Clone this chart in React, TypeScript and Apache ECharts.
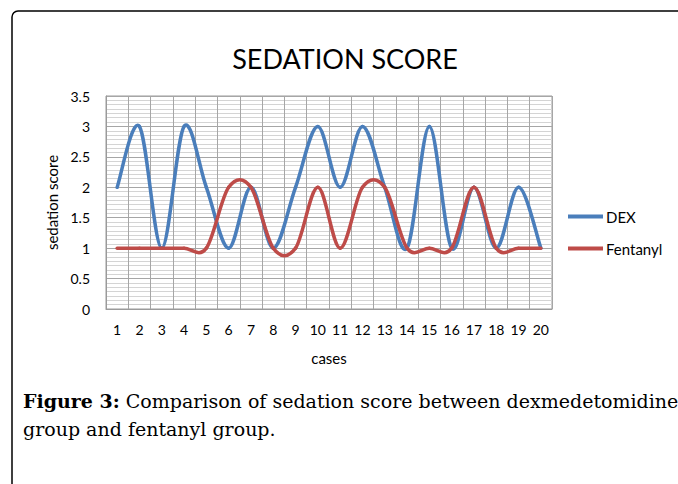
import React, { useEffect, useRef } from "react";
import * as echarts from "echarts";

const cases = ["1","2","3","4","5","6","7","8","9","10","11","12","13","14","15","16","17","18","19","20"];
const dexScores = [2, 3, 1, 3, 2, 1, 2, 1, 2, 3, 2, 3, 2, 1, 3, 1, 2, 1, 2, 1];
const fentanylScores = [1, 1, 1, 1, 1, 2, 2, 1, 1, 2, 1, 2, 2, 1, 1, 1, 2, 1, 1, 1];
const titleText = "SEDATION SCORE";
const captionBold = "Figure 3:";
const captionLine1 = " Comparison of sedation score between dexmedetomidine";
const captionLine2 = "group and fentanyl group.";

const FONT = "Lato, 'Open Sans', sans-serif";
const DEX_COLOR = "#4a7ebb";
const FEN_COLOR = "#be4b48";

// Excel-like smoothed line (Catmull-Rom style cubic Bezier), drawn through the axis scales
function smoothRenderer(values: number[], color: string) {
  return (params: any, api: any) => {
    const i = params.dataIndex;
    const n = values.length;
    if (i >= n - 1) return { type: "group", children: [] };
    const pt = (k: number) => {
      const kk = Math.max(0, Math.min(n - 1, k));
      return api.coord([kk, values[kk]]);
    };
    const p0 = pt(i - 1);
    const p1 = pt(i);
    const p2 = pt(i + 1);
    const p3 = pt(i + 2);
    return {
      type: "bezierCurve",
      shape: {
        x1: p1[0],
        y1: p1[1],
        cpx1: p1[0] + (p2[0] - p0[0]) / 6,
        cpy1: p1[1] + (p2[1] - p0[1]) / 6,
        cpx2: p2[0] - (p3[0] - p1[0]) / 6,
        cpy2: p2[1] - (p3[1] - p1[1]) / 6,
        x2: p2[0],
        y2: p2[1],
      },
      style: { stroke: color, lineWidth: 3.5, fill: "none", lineCap: "round" },
    };
  };
}

export default function App() {
  const ref = useRef<HTMLDivElement>(null);
  useEffect(() => {
    if (!ref.current) return;
    const chart = echarts.init(ref.current, undefined, { renderer: "svg" });
    chart.setOption({
      animation: false,
      backgroundColor: "#ffffff",
      textStyle: { fontFamily: FONT },
      grid: {
        left: 106,
        top: 96,
        right: 126,
        bottom: 175,
        show: true,
        borderColor: "#9a9a9a",
        borderWidth: 1,
      },
      legend: {
        orient: "vertical",
        left: 563,
        top: 204,
        itemWidth: 35,
        itemHeight: 4,
        itemGap: 17,
        icon: "rect",
        textStyle: { fontFamily: FONT, fontSize: 15, color: "#000", padding: [0, 0, 0, -2] },
        data: [
          { name: "DEX", itemStyle: { color: DEX_COLOR } },
          { name: "Fentanyl", itemStyle: { color: FEN_COLOR } },
        ],
      },
      xAxis: {
        type: "category",
        data: cases,
        boundaryGap: true,
        name: "cases",
        nameLocation: "middle",
        nameGap: 41,
        nameTextStyle: { fontFamily: FONT, fontSize: 15, color: "#000" },
        axisLine: { show: true, lineStyle: { color: "#9a9a9a" } },
        axisTick: { show: false },
        axisLabel: { fontFamily: FONT, fontSize: 14, color: "#000", margin: 13 },
        splitLine: { show: true, lineStyle: { color: "#a6a6a6", width: 1 } },
      },
      yAxis: {
        type: "value",
        min: 0,
        max: 3.5,
        interval: 0.5,
        name: "sedation score",
        nameLocation: "middle",
        nameGap: 44,
        nameTextStyle: { fontFamily: FONT, fontSize: 15, color: "#000" },
        axisLine: { show: true, lineStyle: { color: "#9a9a9a" } },
        axisTick: { show: false },
        axisLabel: { fontFamily: FONT, fontSize: 14, color: "#000", margin: 16 },
        splitLine: { show: true, lineStyle: { color: "#a6a6a6", width: 1 } },
        minorTick: { show: false, splitNumber: 7 },
        minorSplitLine: { show: true, lineStyle: { color: "#d4d4d4", width: 1 } },
      },
      series: [
        {
          name: "DEX",
          type: "custom",
          data: dexScores.map((v, i) => [i, v]),
          encode: { x: 0, y: 1 },
          itemStyle: { color: DEX_COLOR },
          renderItem: smoothRenderer(dexScores, DEX_COLOR),
          z: 3,
        },
        {
          name: "Fentanyl",
          type: "custom",
          data: fentanylScores.map((v, i) => [i, v]),
          encode: { x: 0, y: 1 },
          itemStyle: { color: FEN_COLOR },
          renderItem: smoothRenderer(fentanylScores, FEN_COLOR),
          z: 4,
        },
      ],
      graphic: [
        {
          type: "rect",
          shape: { x: 12, y: 11, width: 720, height: 520, r: 6 },
          style: { fill: "none", stroke: "#000", lineWidth: 1.5 },
          silent: true,
        },
        {
          type: "text",
          x: 345,
          y: 58,
          style: {
            text: titleText,
            fontFamily: FONT,
            fontSize: 27,
            fill: "#000",
            align: "center",
            verticalAlign: "middle",
          },
        },
        {
          type: "text",
          x: 23,
          y: 401,
          style: {
            text: "{b|" + captionBold + "}" + captionLine1,
            fontFamily: "'DejaVu Serif', serif",
            fontSize: 19,
            fill: "#000",
            align: "left",
            verticalAlign: "middle",
            rich: {
              b: { fontFamily: "'DejaVu Serif', serif", fontSize: 19, fontWeight: "bold", fill: "#000" },
            },
          },
        },
        {
          type: "text",
          x: 23,
          y: 429,
          style: {
            text: captionLine2,
            fontFamily: "'DejaVu Serif', serif",
            fontSize: 19,
            fill: "#000",
            align: "left",
            verticalAlign: "middle",
          },
        },
      ],
    });
    return () => chart.dispose();
  }, []);
  return (
    <div
      ref={ref}
      style={{ position: "absolute", left: 0, top: 0, width: 678, height: 484 }}
    />
  );
}
